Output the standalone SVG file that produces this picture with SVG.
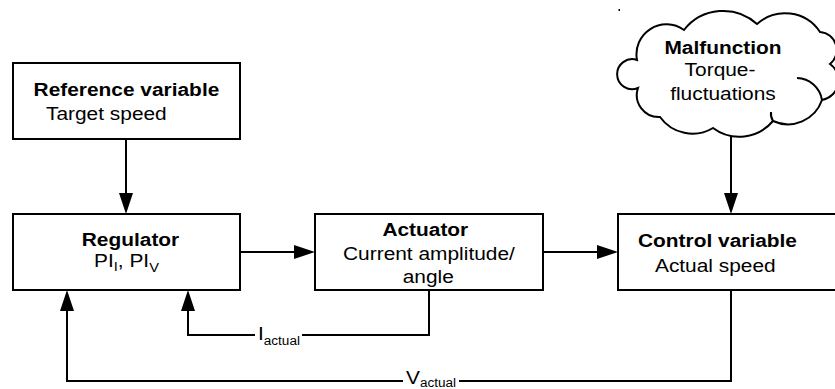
<svg xmlns="http://www.w3.org/2000/svg" width="835" height="389" viewBox="0 0 835 389">
<style>
.box{fill:#fff;stroke:#000;stroke-width:2}
.ln{fill:none;stroke:#000;stroke-width:2}
text{font-family:"Liberation Sans",Arial,sans-serif;font-size:18.5px;fill:#000}
.b{font-weight:bold}
.m{text-anchor:middle}
.sub{font-size:13px}
.sub2{font-size:12px}
</style>
<defs>
<marker id="ah" markerUnits="userSpaceOnUse" markerWidth="21" markerHeight="14" viewBox="0 0 21 14" refX="0" refY="7" orient="auto">
<path d="M0,0 L21,7 L0,14 z" fill="#000"/>
</marker>
</defs>
<rect width="835" height="389" fill="#fff"/>
<g id="connectors">
<path class="ln" d="M126,139 V193" marker-end="url(#ah)"/>
<path class="ln" d="M240,252 H294" marker-end="url(#ah)"/>
<path class="ln" d="M543,252 H597" marker-end="url(#ah)"/>
<path class="ln" d="M731,136 V193" marker-end="url(#ah)"/>
<path class="ln" d="M429,290 V335 H302 M255,335 H188 V311" marker-end="url(#ah)"/>
<path class="ln" d="M731,290 V381 H459 M403,381 H67 V311" marker-end="url(#ah)"/>
<text transform="scale(1.13 1)" x="228.3" y="340">I<tspan class="sub2" dy="5">actual</tspan></text>
<text transform="scale(1.13 1)" x="359.3" y="384">V<tspan class="sub2" dy="3.5">actual</tspan></text>
</g>
<g id="reference">
<rect class="box" x="13" y="63" width="227" height="76"/>
<text class="b m" transform="scale(1.13 1)" x="111.9" y="96">Reference variable</text>
<text transform="scale(1.13 1)" x="40.7" y="120">Target speed</text>
</g>
<g id="regulator">
<rect class="box" x="13" y="214" width="227" height="76"/>
<text class="b m" transform="scale(1.13 1)" x="115.5" y="246">Regulator</text>
<text transform="scale(1.13 1)" x="83.2" y="267">PI<tspan class="sub" dy="4">I</tspan><tspan dy="-4">, PI</tspan><tspan class="sub" dy="5">V</tspan></text>
</g>
<g id="actuator">
<rect class="box" x="315" y="214" width="228" height="76"/>
<text class="b m" transform="scale(1.13 1)" x="376.4" y="236">Actuator</text>
<text class="m" transform="scale(1.13 1)" x="379.6" y="260">Current amplitude/</text>
<text class="m" transform="scale(1.13 1)" x="379" y="283">angle</text>
</g>
<g id="control">
<rect class="box" x="618" y="214" width="230" height="76"/>
<text class="b" transform="scale(1.13 1)" x="564.6" y="247">Control variable</text>
<text transform="scale(1.13 1)" x="579.6" y="272">Actual speed</text>
</g>
<g id="malfunction">
<path class="box" d="M637,60 A30 30 0 0 1 684,30 A50 50 0 0 1 757,24 A42 42 0 0 1 820,32 A18 18 0 0 1 830,64 A20 20 0 0 1 822,100 A36 36 0 0 1 773,121 A44 44 0 0 1 713,128 A40 40 0 0 1 660,117 A22 22 0 0 1 638,88 A15 15 0 1 1 637,60 Z"/>
<path class="ln" d="M797,78 A26 26 0 0 1 822,100"/>
<path class="ln" d="M773,121 A14 14 0 0 1 771,112"/>
<text class="b m" transform="scale(1.13 1)" x="639.8" y="54">Malfunction</text>
<text class="m" transform="scale(1.13 1)" x="637.2" y="76">Torque-</text>
<text class="m" transform="scale(1.13 1)" x="639.8" y="100">fluctuations</text>
</g>
<rect x="618.5" y="9" width="1.5" height="2" fill="#000"/>
</svg>
